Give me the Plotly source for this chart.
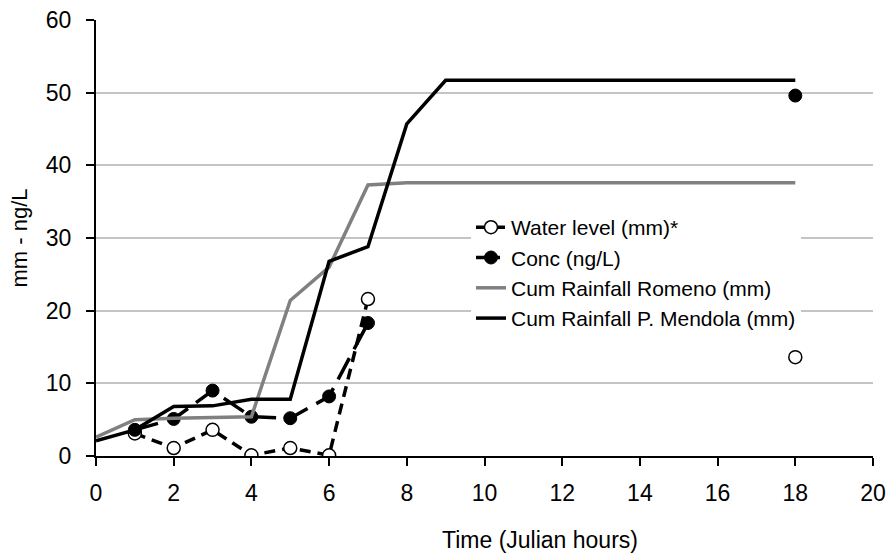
import plotly.graph_objects as go

hours = [0, 1, 2, 3, 4, 5, 6, 7, 8, 9, 18]
water_level = [None, 3.1, 1.1, 3.6, 0.1, 1.1, 0.1, 21.6, None, None, 13.6]
conc = [None, 3.6, 5.1, 9.0, 5.4, 5.2, 8.2, 18.3, None, None, 49.6]
rain_romeno = [2.6, 5.0, 5.2, 5.3, 5.4, 21.4, 26.0, 37.3, 37.6, 37.6, 37.6]
rain_mendola = [2.1, 3.6, 6.8, 6.9, 7.8, 7.8, 26.8, 28.8, 45.7, 51.7, 51.7]

x_ticks = [0, 2, 4, 6, 8, 10, 12, 14, 16, 18, 20]
y_ticks = [0, 10, 20, 30, 40, 50, 60]

FONT = "Liberation Sans, Arial, sans-serif"

fig = go.Figure()
fig.add_trace(go.Scatter(
    x=hours, y=water_level, name="Water level (mm)*", mode="lines+markers",
    connectgaps=False,
    line=dict(color="black", width=3.5, dash="11px,7px"),
    marker=dict(symbol="circle", size=13, color="white", line=dict(color="black", width=1.5)),
))
fig.add_trace(go.Scatter(
    x=hours, y=conc, name="Conc (ng/L)", mode="lines+markers",
    connectgaps=False,
    line=dict(color="black", width=3.5, dash="24px,10px"),
    marker=dict(symbol="circle", size=13, color="black", line=dict(color="black", width=1)),
))
fig.add_trace(go.Scatter(
    x=hours, y=rain_romeno, name="Cum Rainfall Romeno (mm)", mode="lines",
    line=dict(color="#808080", width=3.5),
))
fig.add_trace(go.Scatter(
    x=hours, y=rain_mendola, name="Cum Rainfall P. Mendola (mm)", mode="lines",
    line=dict(color="black", width=3.5),
))

fig.update_layout(
    width=891, height=559,
    margin=dict(l=96, r=18, t=20, b=103),
    paper_bgcolor="white", plot_bgcolor="white",
    font=dict(family=FONT, size=23, color="black"),
    showlegend=True,
    legend=dict(
        x=0.4826, y=0.571, xanchor="left", yanchor="top",
        bgcolor="white", borderwidth=0,
        font=dict(family=FONT, size=21, color="black"),
        tracegroupgap=0, itemwidth=30,
    ),
    xaxis=dict(
        range=[0, 20], tickvals=x_ticks, ticktext=[str(v) for v in x_ticks],
        showgrid=False, zeroline=False,
        showline=True, linecolor="black", linewidth=2,
        ticks="outside", ticklen=8, tickwidth=1.5, tickcolor="black",
        ticklabelstandoff=7,
        tickfont=dict(size=23),
        automargin=False,
    ),
    yaxis=dict(
        range=[0, 60], tickvals=y_ticks, ticktext=[str(v) for v in y_ticks],
        showgrid=True, gridcolor="#c4c4c4", gridwidth=2,
        zeroline=False,
        showline=True, linecolor="black", linewidth=2,
        ticks="outside", ticklen=8, tickwidth=1.5, tickcolor="black",
        ticklabelstandoff=10,
        tickfont=dict(size=23),
        title=dict(text="mm - ng/L", standoff=12, font=dict(size=22)),
        automargin=False,
    ),
    annotations=[dict(
        text="Time (Julian hours)", xref="paper", yref="paper",
        x=(540 - 96) / 777, y=-(540 - 456) / 436, xanchor="center", yanchor="middle",
        showarrow=False, font=dict(family=FONT, size=23, color="black"),
    )],
)

fig.write_html("out.html")
